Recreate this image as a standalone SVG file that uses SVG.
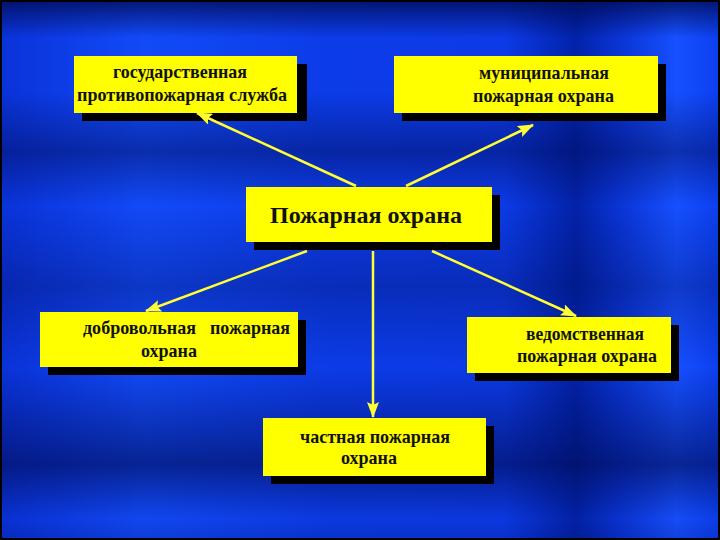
<svg xmlns="http://www.w3.org/2000/svg" width="720" height="540" viewBox="0 0 720 540">
<style>
.box{fill:#ffff00}
.sh{fill:#000}
.t{font-family:"Liberation Serif","Times New Roman",serif;font-weight:bold;font-size:19px;fill:#111}
.tc{font-size:24px}
.c{stroke:#ffff33;stroke-width:2.5;fill:none;marker-end:url(#ah)}
</style>
<defs>
<linearGradient id="bgx" x1="0" y1="0" x2="1" y2="0">
<stop offset="0" stop-color="#0a32d8"/>
<stop offset="0.2" stop-color="#124af8"/>
<stop offset="0.45" stop-color="#0c3ce8"/>
<stop offset="0.7" stop-color="#0c3ae6"/>
<stop offset="0.8" stop-color="#0222a8"/>
<stop offset="0.86" stop-color="#0a34d4"/>
<stop offset="0.94" stop-color="#1650ff"/>
<stop offset="1" stop-color="#0c3eee"/>
</linearGradient>
<linearGradient id="bgy" x1="0" y1="0" x2="0" y2="1">
<stop offset="0" stop-color="#000a50" stop-opacity="0.8"/>
<stop offset="0.07" stop-color="#000a50" stop-opacity="0"/>
<stop offset="0.17" stop-color="#000a50" stop-opacity="0"/>
<stop offset="0.28" stop-color="#000a50" stop-opacity="0.45"/>
<stop offset="0.38" stop-color="#000a50" stop-opacity="0"/>
<stop offset="0.53" stop-color="#000a50" stop-opacity="0.3"/>
<stop offset="0.68" stop-color="#000a50" stop-opacity="0"/>
<stop offset="0.86" stop-color="#000a50" stop-opacity="0.6"/>
<stop offset="0.96" stop-color="#000a50" stop-opacity="0.05"/>
<stop offset="1" stop-color="#000a50" stop-opacity="0.2"/>
</linearGradient>
<marker id="ah" viewBox="0 0 16 12" refX="15" refY="6" markerWidth="16" markerHeight="12" markerUnits="userSpaceOnUse" orient="auto">
<path d="M0,0 L16,6 L0,12 L3,6 Z" fill="#ffff33"/>
</marker>
</defs>
<g id="background">
<rect x="0" y="0" width="720" height="540" fill="url(#bgx)"/>
<rect x="0" y="0" width="720" height="540" fill="url(#bgy)"/>
<rect x="1" y="1" width="718" height="538" fill="none" stroke="#000" stroke-width="2"/>
</g>
<g id="n-gos">
<rect class="sh" x="82" y="64" width="225" height="57"/>
<rect class="box" x="74" y="56" width="223" height="57"/>
<text class="t" x="113" y="78" textLength="134" lengthAdjust="spacingAndGlyphs">государственная</text>
<text class="t" x="77" y="101" textLength="210" lengthAdjust="spacingAndGlyphs">противопожарная служба</text>
</g>
<g id="n-mun">
<rect class="sh" x="402" y="64" width="264" height="57"/>
<rect class="box" x="394" y="56" width="264" height="57"/>
<text class="t" x="479" y="79" textLength="130" lengthAdjust="spacingAndGlyphs">муниципальная</text>
<text class="t" x="473" y="102" textLength="141" lengthAdjust="spacingAndGlyphs">пожарная охрана</text>
</g>
<g id="n-main">
<rect class="sh" x="254" y="195" width="246" height="55"/>
<rect class="box" x="246" y="187" width="246" height="55"/>
<text class="t tc" x="270" y="223" textLength="192" lengthAdjust="spacingAndGlyphs">Пожарная охрана</text>
</g>
<g id="n-dob">
<rect class="sh" x="48" y="320" width="258" height="55"/>
<rect class="box" x="40" y="312" width="258" height="55"/>
<text class="t" y="334"><tspan x="83" textLength="113" lengthAdjust="spacingAndGlyphs">добровольная</tspan> <tspan x="210" textLength="80" lengthAdjust="spacingAndGlyphs">пожарная</tspan></text>
<text class="t" x="141" y="357" textLength="56" lengthAdjust="spacingAndGlyphs">охрана</text>
</g>
<g id="n-ved">
<rect class="sh" x="475" y="325" width="204" height="56"/>
<rect class="box" x="467" y="317" width="204" height="56"/>
<text class="t" x="526" y="340" textLength="118" lengthAdjust="spacingAndGlyphs">ведомственная</text>
<text class="t" x="517" y="362" textLength="140" lengthAdjust="spacingAndGlyphs">пожарная охрана</text>
</g>
<g id="n-chast">
<rect class="sh" x="271" y="426" width="223" height="58"/>
<rect class="box" x="263" y="418" width="223" height="58"/>
<text class="t" x="300" y="443" textLength="150" lengthAdjust="spacingAndGlyphs">частная пожарная</text>
<text class="t" x="341" y="464" textLength="56" lengthAdjust="spacingAndGlyphs">охрана</text>
</g>
<g id="connectors">
<line class="c" x1="356" y1="186" x2="197" y2="113"/>
<line class="c" x1="406" y1="186" x2="533" y2="125"/>
<line class="c" x1="307" y1="251" x2="146" y2="311"/>
<line class="c" x1="373" y1="251" x2="373" y2="417"/>
<line class="c" x1="432" y1="251" x2="576" y2="316"/>
</g>
</svg>
